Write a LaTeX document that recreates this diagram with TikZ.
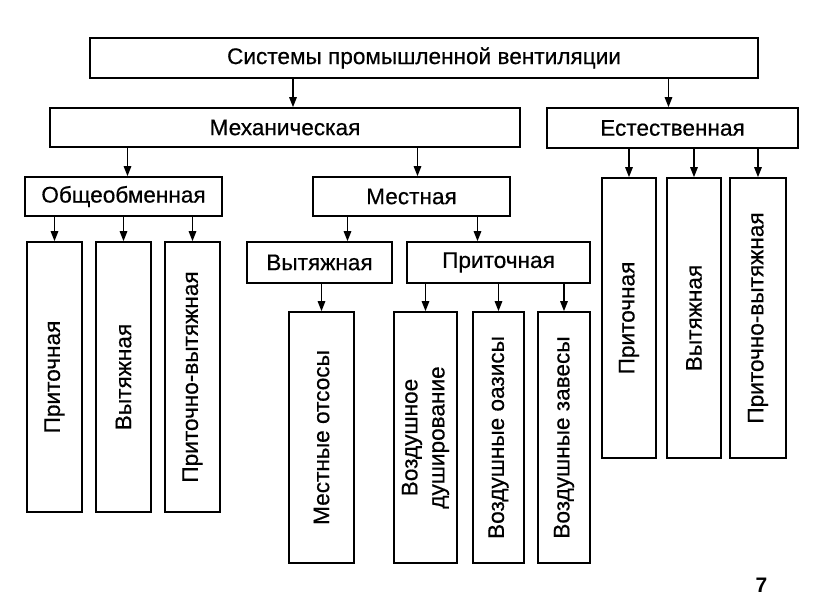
\documentclass[tikz,border=0pt]{standalone}
\usepackage{fontspec}
\setmainfont{Liberation Sans}
\newfontfamily\boxfont[FakeBold=0.5]{Liberation Sans}
\usepackage{graphicx}
\usepackage{tikz}
\usetikzlibrary{arrows.meta,positioning}

\newcommand{\vtext}[1]{\rotatebox{90}{#1}}

\begin{document}
\begin{tikzpicture}[x=1pt,y=-1pt,
    box/.style={draw,line width=1.6pt,rectangle,inner sep=0pt,font=\boxfont\fontsize{22.6}{27}\selectfont},
    arr/.style={line width=1.4pt,-{Triangle[length=10pt,width=7.5pt]}}]
  \useasboundingbox (0,0) rectangle (816,613);
  % levels 0 and 1
  \node[box,minimum width=668pt,minimum height=40pt] (sys) at (424,58) {Системы промышленной вентиляции};
  \node[box,minimum width=470pt,minimum height=39pt] (mech) at (285,127.5) {Механическая};
  \node[box,minimum width=251pt,minimum height=40pt] (nat) at (672.5,128) {Естественная};
  % mechanical branch
  \node[box,minimum width=197pt,minimum height=39pt] (obsh) at (123.5,196.5) {Общеобменная};
  \node[box,minimum width=197pt,minimum height=39pt] (mest) at (411.5,196.5) {Местная};
  \node[box,minimum width=55pt,minimum height=270pt] (obsh1) at (54.5,377) {\vtext{Приточная}};
  \node[box,minimum width=55pt,minimum height=270pt] (obsh2) at (123.5,377) {\vtext{Вытяжная}};
  \node[box,minimum width=55pt,minimum height=270pt] (obsh3) at (192.5,377) {\vtext{Приточно-вытяжная}};
  \node[box,minimum width=145pt,minimum height=41pt] (vyt) at (319.5,262.5) {Вытяжная};
  \node[box,minimum width=183pt,minimum height=41pt] (prit) at (498.5,262.5) {Приточная};
  \node[box,minimum width=65pt,minimum height=251pt] (otsos) at (321.5,437.5) {\vtext{Местные отсосы}};
  \node[box,minimum width=63pt,minimum height=251pt] (dush) at (425.5,437.5)
    {\vtext{\begin{tabular}{@{}c@{}}Воздушное\\душирование\end{tabular}}};
  \node[box,minimum width=51pt,minimum height=251pt] (oaz) at (498.5,437.5) {\vtext{Воздушные оазисы}};
  \node[box,minimum width=52pt,minimum height=251pt] (zav) at (564,437.5) {\vtext{Воздушные завесы}};
  % natural branch
  \node[box,minimum width=54pt,minimum height=280pt] (nat1) at (629,318) {\vtext{Приточная}};
  \node[box,minimum width=54pt,minimum height=280pt] (nat2) at (694,318) {\vtext{Вытяжная}};
  \node[box,minimum width=56pt,minimum height=280pt] (nat3) at (758,318) {\vtext{Приточно-вытяжная}};
  \node[font=\fontsize{21}{24}\selectfont\bfseries] (pnum) at (761.5,585.5) {7};

  \draw[arr] ([xshift=8pt]mech.north |- sys.south) -- ([xshift=8pt]mech.north);
  \draw[arr] ([xshift=-4pt]nat.north |- sys.south) -- ([xshift=-4pt]nat.north);
  \draw[arr] ([xshift=4pt]obsh.north |- mech.south) -- ([xshift=4pt]obsh.north);
  \draw[arr] ([xshift=6pt]mest.north |- mech.south) -- ([xshift=6pt]mest.north);
  \foreach \n in {obsh1,obsh2,obsh3}
    \draw[arr] (\n.north |- obsh.south) -- (\n.north);
  \draw[arr] ([xshift=28pt]vyt.north |- mest.south) -- ([xshift=28pt]vyt.north);
  \draw[arr] ([xshift=-21pt]prit.north |- mest.south) -- ([xshift=-21pt]prit.north);
  \draw[arr] (otsos.north |- vyt.south) -- (otsos.north);
  \foreach \n in {dush,oaz,zav}
    \draw[arr] (\n.north |- prit.south) -- (\n.north);
  \foreach \n in {nat1,nat2,nat3}
    \draw[arr] (\n.north |- nat.south) -- (\n.north);
\end{tikzpicture}
\end{document}
